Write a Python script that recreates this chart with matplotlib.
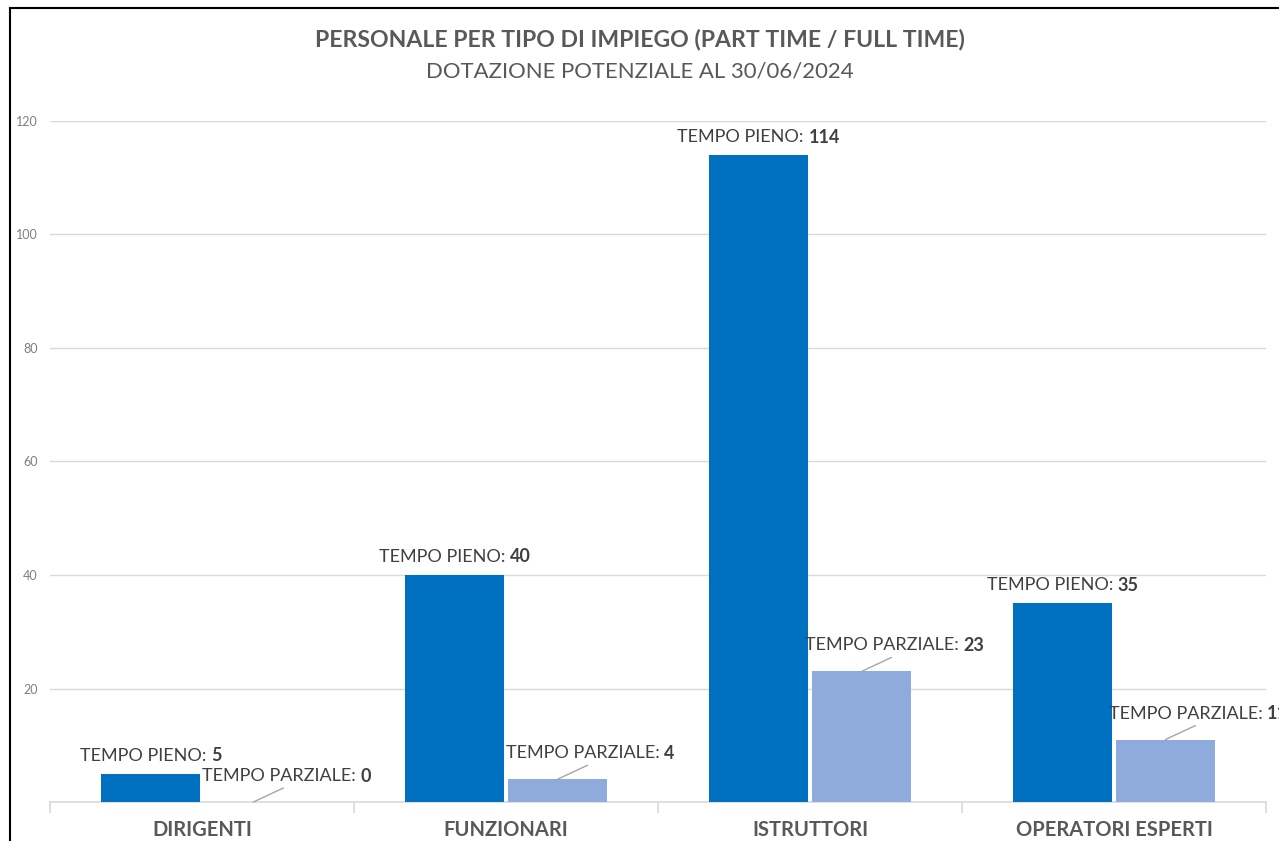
import matplotlib
matplotlib.use("Agg")
import matplotlib.pyplot as plt
from matplotlib.lines import Line2D
import numpy as np

categories = ["DIRIGENTI", "FUNZIONARI", "ISTRUTTORI", "OPERATORI ESPERTI"]
tempo_pieno = [5, 40, 114, 35]
tempo_parziale = [0, 4, 23, 11]
yticks = [20, 40, 60, 80, 100, 120]
title = "PERSONALE PER TIPO DI IMPIEGO (PART TIME / FULL TIME)"
subtitle = "DOTAZIONE POTENZIALE AL 30/06/2024"

FONT = "Lato"
plt.rcParams['font.family'] = [FONT, 'DejaVu Sans']

W, H = 1279, 841
fig = plt.figure(figsize=(W / 100, H / 100), dpi=100)
ax = fig.add_axes([50 / W, (H - 802) / H, (1266 - 50) / W, (802 - 121) / H])

x = np.arange(len(categories))
bw = 0.326
off = 0.169
blue = "#0070C0"
light = "#8FAADC"
ax.bar(x - off, tempo_pieno, bw, color=blue, zorder=3)
ax.bar(x + off, tempo_parziale, bw, color=light, zorder=3)

ax.set_xlim(-0.5, len(categories) - 0.5)
ax.set_ylim(0, 120)
ax.set_yticks(yticks)
ax.tick_params(axis='y', length=0, pad=9, labelsize=9, labelcolor="#7F7F7F")
ax.yaxis.grid(True, color="#D9D9D9", lw=1, zorder=0)
for s in ["top", "right", "left"]:
    ax.spines[s].set_visible(False)
ax.spines["bottom"].set_color("#D9D9D9")
ax.spines["bottom"].set_linewidth(1.2)

ax.set_xticks(np.arange(len(categories) + 1) - 0.5)
ax.set_xticklabels([])
ax.tick_params(axis='x', length=8, color="#D9D9D9", width=1.2)
for i, c in enumerate(categories):
    ax.text(i, -4.9, c, ha="center", va="center", fontsize=14.5, fontweight="bold",
            color="#595959")

lblcol = "#404040"
fs = 13
fig.canvas.draw()
r = fig.canvas.get_renderer()

def two_part(yoff, xdata, ydata, normal, bold, dx_px=0):
    t1 = ax.annotate(normal, xy=(xdata, ydata), xytext=(0, 0), textcoords="offset pixels",
                     ha="left", va="center", fontsize=fs, color=lblcol)
    t2 = ax.annotate(bold, xy=(xdata, ydata), xytext=(0, 0), textcoords="offset pixels",
                     ha="left", va="center", fontsize=fs, color=lblcol, fontweight="bold")
    w1 = t1.get_window_extent(r).width
    w2 = t2.get_window_extent(r).width
    total = w1 + w2
    t1.set_position((dx_px - total / 2, yoff))
    t2.set_position((dx_px - total / 2 + w1, yoff))
    return t1, t2

for i in range(len(categories)):
    two_part(18, i - off, tempo_pieno[i], "TEMPO PIENO: ", str(tempo_pieno[i]))
    two_part(26, i + off, tempo_parziale[i], "TEMPO PARZIALE: ", str(tempo_parziale[i]), dx_px=33)
    ax.annotate("", xy=(i + off, tempo_parziale[i]), xytext=(30, 14), textcoords="offset pixels",
                arrowprops=dict(arrowstyle="-", color="#A6A6A6", lw=1, shrinkA=0, shrinkB=0),
                annotation_clip=False)

fig.text(0.5, 1 - 40 / H, title, ha="center", va="center", fontsize=16.6, fontweight="bold",
         color="#595959")
fig.text(0.5, 1 - 72 / H, subtitle, ha="center", va="center", fontsize=15.9, color="#595959")

fig.add_artist(Line2D([10 / W, 10 / W], [0, 1 - 8 / H], transform=fig.transFigure, color="black", lw=1.5))
fig.add_artist(Line2D([10 / W, 1], [1 - 8 / H, 1 - 8 / H], transform=fig.transFigure, color="black", lw=1.5))

fig.savefig("out.png", dpi=100)
